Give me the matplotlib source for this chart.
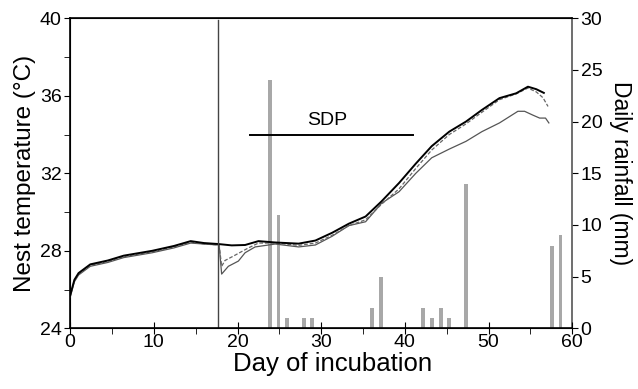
import numpy as np
import matplotlib.pyplot as plt
from matplotlib.ticker import MultipleLocator

plt.rcParams['font.family'] = ['Liberation Sans', 'DejaVu Sans']

# Daily rainfall (mm)
rain_day = [23.9, 24.9, 25.9, 27.9, 28.9, 36.1, 37.1, 42.2, 43.2, 44.3, 45.3, 47.3, 57.6, 58.6]
rain_mm = [24, 11, 1, 1, 1, 2, 5, 2, 1, 2, 1, 14, 8, 9]

# Nest temperature, main nest (thick black)
t_black = [0, 0.5, 1, 2.4, 4.5, 6.4, 9.8, 12.4, 14.4, 16, 17.7, 19.3, 20.9, 22.5, 24.5,
           27.3, 29.3, 31.3, 33.3, 35.3, 37.2, 39.3, 41.3, 43.2, 45.3, 47.3, 49.2,
           51.3, 53.3, 54.7, 55.7, 56.6]
y_black = [25.7, 26.5, 26.85, 27.3, 27.5, 27.75, 28.0, 28.25, 28.5, 28.4, 28.35, 28.28, 28.3,
           28.5, 28.43, 28.37, 28.53, 28.93, 29.4, 29.77, 30.55, 31.5, 32.5, 33.4, 34.15,
           34.67, 35.27, 35.88, 36.13, 36.47, 36.34, 36.15]

# dashed grey
t_dash = [0, 0.5, 1, 2.4, 4.5, 6.4, 9.8, 12.4, 14.4, 16, 17.8, 18.1, 18.5, 19.6, 21.3, 22.5,
          24.5, 27.3, 29.3, 31.3, 33.3, 35.3, 37.2, 39.3, 41.3, 43.2, 45.3, 47.3, 49.2,
          51.3, 53.3, 54.7, 55.7, 56.5, 57.1]
y_dash = [25.7, 26.45, 26.8, 27.25, 27.45, 27.7, 27.95, 28.2, 28.45, 28.35, 28.3, 27.2, 27.5,
          27.75, 28.15, 28.4, 28.4, 28.28, 28.4, 28.8, 29.3, 29.6, 30.4, 31.2, 32.25, 33.2,
          34.0, 34.55, 35.15, 35.8, 36.1, 36.4, 36.2, 35.9, 35.45]

# thin dark grey
t_thin = [0, 0.5, 1, 2.4, 4.5, 6.4, 9.8, 12.4, 14.4, 16, 17.8, 18.1, 18.9, 20.1, 20.9, 22.1,
          24.5, 27.3, 29.3, 31.3, 33.3, 35.3, 37.2, 39.3, 41.3, 43.2, 45.3, 47.3, 49.2,
          51.3, 53.5, 54.3, 55.3, 56.1, 56.8, 57.2]
y_thin = [25.6, 26.4, 26.75, 27.2, 27.4, 27.65, 27.9, 28.15, 28.4, 28.35, 28.3, 26.8, 27.2,
          27.47, 27.9, 28.2, 28.35, 28.2, 28.3, 28.75, 29.3, 29.5, 30.45, 31.05, 32.0, 32.8,
          33.25, 33.65, 34.15, 34.6, 35.2, 35.2, 35.0, 34.85, 34.85, 34.6]

fig = plt.figure(figsize=(6.38, 3.89), dpi=100)
ax = fig.add_axes([0.11, 0.156, 0.787, 0.797])
ax2 = ax.twinx()

# rainfall bars behind the temperature curves
ax2.bar(rain_day, rain_mm, width=0.45, color='#a8a8a8', zorder=1)
ax2.set_ylim(0, 30)
ax2.yaxis.set_major_locator(MultipleLocator(5))
ax2.set_ylabel('Daily rainfall (mm)', fontsize=16.5, rotation=270, labelpad=21)
ax2.tick_params(axis='y', direction='out', length=4, labelsize=14, colors='black', pad=2)
ax2.spines['right'].set_color('#555555')
ax2.spines['right'].set_linewidth(1.2)

ax.set_zorder(ax2.get_zorder() + 1)
ax.patch.set_visible(False)

ax.plot(t_thin, y_thin, color='#555555', lw=0.9)
ax.plot(t_dash, y_dash, color='#666666', lw=0.9, ls=(0, (3, 1.5)))
ax.plot(t_black, y_black, color='black', lw=1.4)

# start of incubation period marker and SDP bar
ax.axvline(17.7, ymin=0, ymax=0.995, color='#444444', lw=1)
ax.plot([21.5, 41], [34, 34], color='black', lw=1.4)
ax.text(30.7, 34.3, 'SDP', ha='center', va='bottom', fontsize=14)

ax.set_xlim(0, 60)
ax.set_ylim(24, 40)
ax.xaxis.set_major_locator(MultipleLocator(10))
ax.xaxis.set_minor_locator(MultipleLocator(5))
ax.yaxis.set_major_locator(MultipleLocator(4))
ax.yaxis.set_minor_locator(MultipleLocator(2))
ax.tick_params(axis='x', which='major', direction='inout', length=8, labelsize=14, pad=0)
ax.tick_params(axis='x', which='minor', direction='out', length=4)
ax.tick_params(axis='y', which='both', direction='out', labelsize=14, length=4, pad=2)
ax.set_xlabel('Day of incubation', fontsize=18.5, labelpad=1)
ax.xaxis.label.set_x(0.522)
ax.set_ylabel('Nest temperature (°C)', fontsize=17.5, labelpad=3)
for s in ['left', 'top', 'bottom']:
    ax.spines[s].set_linewidth(1.2)
ax.spines['right'].set_visible(False)

fig.savefig('out.png', dpi=100)
